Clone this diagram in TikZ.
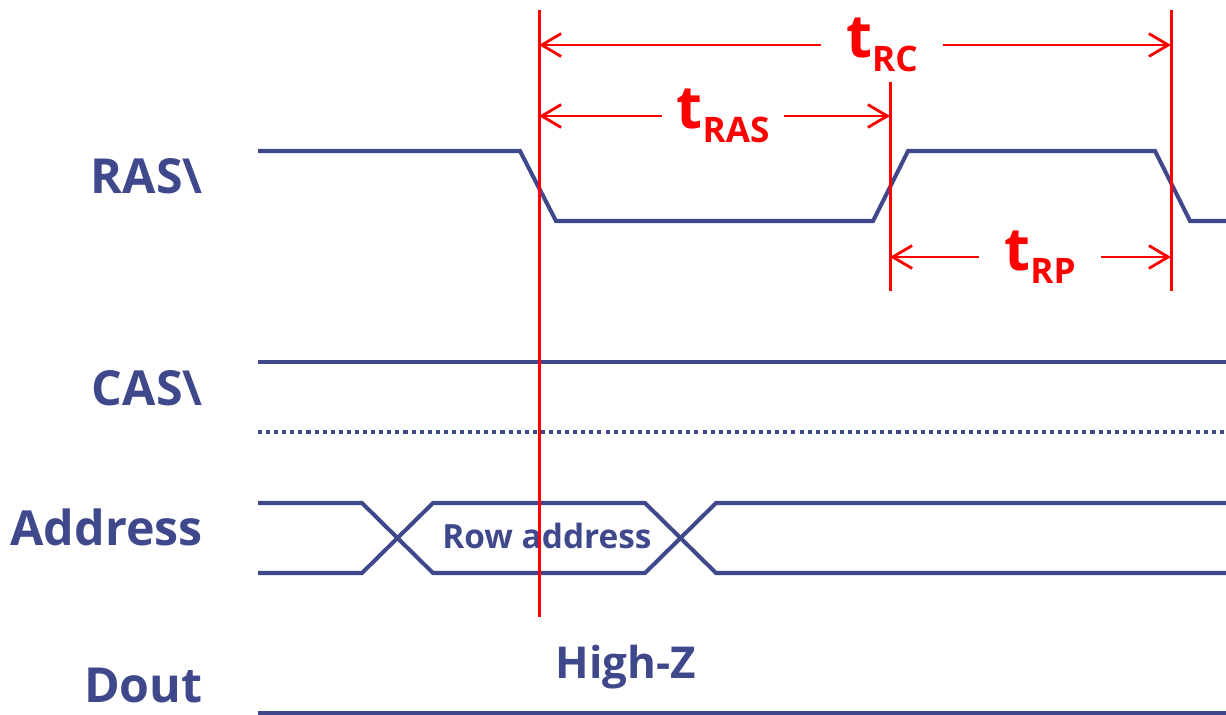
\documentclass[tikz,border=0pt]{standalone}
\usepackage{fontspec}
\setmainfont{Open Sans}
\usepackage{xcolor}
\usetikzlibrary{arrows.meta}
\definecolor{sigblue}{RGB}{64,72,140}
\definecolor{timred}{RGB}{255,0,0}
\newcommand{\tsub}[1]{{\fontsize{34}{34}\selectfont t}\raisebox{-7.6pt}{\fontsize{20}{20}\selectfont #1}}

\begin{document}
\begin{tikzpicture}[
  x=0.02cm, y=-0.02cm,
  sig/.style={draw=sigblue, line width=2.3pt},
  refline/.style={draw=timred, line width=1.7pt},
  dim/.style={draw=timred, line width=1.6pt, -{Straight Barb[length=11pt,width=13pt]}},
  signame/.style={anchor=east, inner sep=0pt, text=sigblue, font=\bfseries\fontsize{27.5}{27.5}\selectfont},
  tlabel/.style={inner ysep=0pt, text=timred, font=\bfseries}
]
\useasboundingbox (0,0) rectangle (1226,714);

% signal names
\node[signame] (ras) at (203,176) {RAS\textbackslash};
\node[signame] (cas) at (203,388) {CAS\textbackslash};
\node[signame] (addr) at (203,527) {Address};
\node[signame] (dout) at (203,685) {Dout};

% waveforms
\draw[sig] (258,151) -- (520,151) -- (556,221) -- (873,221) -- (908,151) -- (1155,151) -- (1190,221) -- (1226,221);
\draw[sig] (258,362) -- (1226,362);
\draw[sig, dash pattern=on 2.3pt off 2.3pt] (258,432) -- (1226,432);
\draw[sig] (258,503) -- (362,503) -- (433,573) -- (645,573) -- (716,503) -- (1226,503);
\draw[sig] (258,573) -- (362,573) -- (433,503) -- (645,503) -- (716,573) -- (1226,573);
\draw[sig] (258,713) -- (1226,713);
\node[text=sigblue, font=\bfseries\fontsize{19}{19}\selectfont] (row) at (547,536) {Row address};
\node[text=sigblue, font=\bfseries\fontsize{25}{25}\selectfont] (hiz) at (626,667) {High-Z};

% timing markers
\coordinate (m1) at (539,10);
\coordinate (m2) at (890,82);
\coordinate (m3) at (1171,10);
\draw[refline] (m1) -- (539,617);
\draw[refline] (m2) -- (890,291);
\draw[refline] (m3) -- (1171,291);

\node[tlabel, inner xsep=14pt] (rc) at (882,45) {\tsub{RC}};
\node[tlabel, inner xsep=8pt] (rasl) at (723,116) {\tsub{RAS}};
\node[tlabel, inner xsep=14pt] (rp) at (1040,257) {\tsub{RP}};
\draw[dim] (rc.west) -- (rc.west -| m1);
\draw[dim] (rc.east) -- (rc.east -| m3);
\draw[dim] (rasl.west) -- (rasl.west -| m1);
\draw[dim] (rasl.east) -- (rasl.east -| m2);
\draw[dim] (rp.west) -- (rp.west -| m2);
\draw[dim] (rp.east) -- (rp.east -| m3);
\end{tikzpicture}
\end{document}
